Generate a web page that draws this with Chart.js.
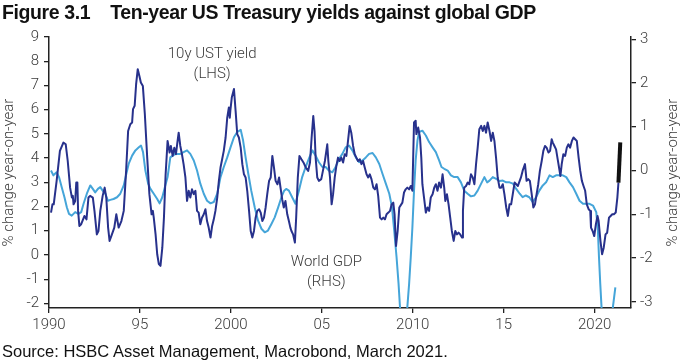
<!DOCTYPE html>
<html>
<head>
<meta charset="utf-8">
<script src="https://cdn.jsdelivr.net/npm/chart.js@4"></script>
<style>
  html, body { margin: 0; padding: 0; background: #fff; }
  #wrap { position: relative; width: 683px; height: 361px; overflow: hidden; }
  #title { position: absolute; left: 2px; top: 3px; font: bold 19.5px "Liberation Sans", Arial, sans-serif;
           line-height: 1; letter-spacing: -0.4px; color: #111; white-space: pre; }
  #source { position: absolute; left: 2px; top: 342.5px; font: 16.5px "Liberation Sans", Arial, sans-serif;
            line-height: 1; color: #111; white-space: pre; }
  canvas { position: absolute; left: 0; top: 0; }
</style>
</head>
<body>
<div id="wrap">
  <canvas id="myChart" width="683" height="361"></canvas>
  <div id="title">Figure 3.1    Ten-year US Treasury yields against global GDP</div>
  <div id="source">Source: HSBC Asset Management, Macrobond, March 2021.</div>
</div>
<script>
// 10y UST yield, % change y/y (LHS)
const ustYears = [1990.11,1990.19,1990.26,1990.42,1990.6,1990.79,1990.92,1991.03,1991.16,1991.26,1991.31,1991.35,1991.44,1991.5,1991.56,1991.6,1991.67,1991.77,1991.95,1992.06,
  1992.17,1992.26,1992.41,1992.5,1992.63,1992.72,1992.82,1992.95,1993.06,1993.15,1993.25,1993.33,1993.46,1993.59,1993.7,1993.83,1993.98,1994.11,1994.24,1994.35,
  1994.47,1994.57,1994.62,1994.71,1994.79,1994.88,1994.97,1995.05,1995.16,1995.27,1995.4,1995.52,1995.64,1995.71,1995.76,1995.86,1995.95,1996.04,1996.13,1996.23,
  1996.32,1996.41,1996.52,1996.63,1996.7,1996.8,1996.89,1996.98,1997.07,1997.13,1997.22,1997.31,1997.4,1997.5,1997.59,1997.68,1997.77,1997.86,1997.96,1998.05,
  1998.14,1998.23,1998.32,1998.41,1998.51,1998.6,1998.69,1998.78,1998.88,1998.97,1999.06,1999.15,1999.25,1999.34,1999.43,1999.52,1999.61,1999.71,1999.8,1999.89,
  1999.94,1999.97,2000.05,2000.17,2000.26,2000.35,2000.44,2000.54,2000.63,2000.72,2000.81,2000.9,2001.0,2001.09,2001.18,2001.27,2001.36,2001.45,2001.55,2001.64,
  2001.73,2001.82,2001.91,2002.0,2002.1,2002.19,2002.28,2002.37,2002.46,2002.56,2002.65,2002.82,2002.91,2003.0,2003.1,2003.19,2003.27,2003.33,2003.42,2003.52,
  2003.59,2003.68,2003.77,2003.88,2003.99,2004.12,2004.25,2004.35,2004.44,2004.53,2004.6,2004.66,2004.75,2004.84,2004.97,2005.06,2005.17,2005.3,2005.36,2005.45,
  2005.54,2005.62,2005.71,2005.8,2005.89,2005.98,2006.07,2006.17,2006.26,2006.35,2006.44,2006.53,2006.62,2006.72,2006.81,2006.9,2006.99,2007.09,2007.18,2007.27,
  2007.36,2007.46,2007.55,2007.64,2007.73,2007.83,2007.92,2008.01,2008.1,2008.2,2008.29,2008.38,2008.47,2008.56,2008.66,2008.75,2008.84,2008.93,2009.0,2009.08,
  2009.17,2009.26,2009.43,2009.52,2009.61,2009.7,2009.8,2009.89,2009.98,2010.07,2010.16,2010.2,2010.3,2010.4,2010.47,2010.53,2010.62,2010.72,2010.81,2010.9,
  2010.99,2011.09,2011.18,2011.27,2011.36,2011.45,2011.55,2011.64,2011.73,2011.79,2011.88,2011.97,2012.06,2012.15,2012.25,2012.34,2012.43,2012.52,2012.61,2012.71,
  2012.76,2012.83,2012.93,2013.02,2013.11,2013.2,2013.3,2013.39,2013.48,2013.57,2013.66,2013.76,2013.85,2013.94,2014.03,2014.12,2014.22,2014.31,2014.4,2014.49,
  2014.58,2014.67,2014.77,2014.86,2014.95,2015.04,2015.14,2015.23,2015.32,2015.41,2015.5,2015.6,2015.69,2015.78,2015.95,2016.04,2016.17,2016.26,2016.35,2016.44,
  2016.54,2016.63,2016.72,2016.81,2016.9,2016.99,2017.09,2017.18,2017.27,2017.36,2017.46,2017.55,2017.64,2017.7,2017.79,2017.88,2017.97,2018.06,2018.12,2018.19,
  2018.28,2018.38,2018.47,2018.56,2018.65,2018.75,2018.84,2018.93,2019.02,2019.12,2019.21,2019.3,2019.39,2019.48,2019.57,2019.67,2019.76,2019.8,2019.89,2019.98,
  2020.07,2020.16,2020.22,2020.32,2020.41,2020.5,2020.6,2020.69,2020.79,2020.88,2020.97,2021.06,2021.16,2021.25,2021.31];
const ustYield = [1.75,2.09,2.09,3.06,4.3,4.64,4.57,3.88,2.78,2.37,2.44,2.09,2.23,2.99,2.99,1.82,1.2,1.27,1.61,1.47,
  2.37,2.44,2.37,1.82,0.85,0.99,1.82,2.44,2.78,2.37,1.13,0.58,0.85,1.13,1.68,1.13,1.4,1.82,3.47,5.12,
  5.4,5.47,6.02,6.16,7.05,7.67,7.39,7.12,6.98,5.81,4.02,2.51,1.68,1.82,1.54,0.85,0.03,-0.38,-0.45,0.3,
  1.54,3.3,4.71,4.23,4.5,4.09,4.43,4.16,4.71,5.05,4.5,4.16,3.75,3.2,2.23,2.65,2.37,2.71,2.51,2.65,
  1.82,1.75,1.27,1.54,1.68,1.89,1.4,1.13,0.72,1.2,1.47,1.82,2.37,3.06,3.61,3.95,4.3,4.85,5.67,6.09,
  5.67,5.95,6.5,6.85,5.95,4.99,4.85,4.43,3.75,3.33,3.2,2.65,1.82,0.99,0.72,0.99,1.54,1.82,1.89,1.75,
  1.4,1.54,1.96,2.51,3.06,3.2,4.09,3.61,3.06,2.92,3.2,2.3,1.96,2.23,1.68,1.4,1.13,0.99,0.85,0.51,
  1.54,3.2,4.09,3.95,3.82,3.61,3.47,3.82,4.85,5.74,5.12,4.02,3.2,3.06,3.13,3.47,3.88,4.57,3.88,3.2,
  2.09,2.51,3.2,3.68,4.02,3.88,4.02,3.82,4.16,4.09,4.71,5.33,5.05,4.5,4.16,4.02,3.88,3.95,3.75,3.88,
  3.61,3.33,3.2,3.33,3.13,2.78,2.71,2.92,2.44,1.54,1.47,1.54,1.47,1.68,1.75,1.82,2.09,2.16,1.68,0.37,
  0.99,1.96,2.16,2.58,2.71,2.78,2.71,2.85,2.65,5.47,5.54,4.99,5.26,4.85,4.02,2.92,2.37,1.75,1.96,1.82,
  2.37,2.51,2.78,2.92,2.65,2.99,2.78,3.33,2.78,2.23,2.51,2.09,1.54,0.99,0.58,0.99,0.85,0.92,0.85,0.72,
  1.82,2.78,2.85,2.99,2.92,3.33,3.2,2.92,3.75,4.43,5.19,5.33,5.12,5.33,5.05,5.47,5.12,4.71,5.05,4.71,
  4.02,3.2,2.78,2.78,2.92,2.51,1.96,1.61,2.09,2.09,2.51,2.99,2.92,2.85,3.2,3.47,3.75,3.06,3.13,3.06,
  2.51,1.96,2.09,2.51,2.92,3.47,3.88,4.3,4.5,4.43,4.23,4.3,4.78,4.64,4.5,4.36,3.95,3.54,3.26,3.75,
  4.16,4.09,4.43,4.57,4.43,4.71,4.85,4.78,4.71,4.02,3.47,3.06,2.85,2.65,2.09,1.89,1.82,1.13,0.99,0.78,
  1.27,1.61,1.4,0.58,0.03,0.3,0.85,0.92,1.54,1.61,1.68,1.68,1.75,2.37,2.99];

// latest reading (black stroke)
const latestYears = [2021.31, 2021.41];
const latestYield = [2.99, 4.65];

// World GDP, % change y/y (RHS)
const gdpYears = [1990.11,1990.24,1990.42,1990.55,1990.7,1990.85,1990.98,1991.1,1991.25,1991.44,1991.62,1991.77,1991.9,1992.08,1992.27,1992.41,1992.54,1992.69,1992.82,1992.95,
  1993.1,1993.24,1993.37,1993.55,1993.74,1993.92,1994.11,1994.25,1994.38,1994.57,1994.75,1994.94,1995.06,1995.17,1995.3,1995.45,1995.58,1995.76,1995.95,1996.08,
  1996.23,1996.37,1996.52,1996.67,1996.94,1997.22,1997.4,1997.59,1997.77,1997.96,1998.14,1998.32,1998.51,1998.69,1998.88,1999.06,1999.25,1999.43,1999.61,1999.8,
  1999.98,2000.17,2000.35,2000.54,2000.67,2000.81,2000.96,2001.12,2001.31,2001.49,2001.68,2001.86,2002.04,2002.23,2002.41,2002.6,2002.78,2002.93,2003.04,2003.19,
  2003.37,2003.55,2003.74,2003.92,2004.11,2004.29,2004.48,2004.66,2004.84,2005.03,2005.21,2005.39,2005.58,2005.76,2005.95,2006.13,2006.31,2006.5,2006.68,2006.87,
  2007.05,2007.24,2007.42,2007.6,2007.79,2007.97,2008.16,2008.34,2008.52,2008.71,2008.86,2008.98,2009.11,2009.22,2009.31,2009.5,2009.7,2009.8,2009.89,2009.98,
  2010.07,2010.16,2010.26,2010.35,2010.53,2010.72,2010.9,2011.09,2011.27,2011.45,2011.58,2011.73,2011.92,2012.1,2012.28,2012.47,2012.65,2012.83,2013.02,2013.2,
  2013.39,2013.57,2013.76,2013.94,2014.09,2014.22,2014.4,2014.59,2014.77,2014.95,2015.14,2015.32,2015.51,2015.69,2015.88,2016.04,2016.22,2016.41,2016.59,2016.78,
  2016.96,2017.15,2017.33,2017.52,2017.7,2017.88,2018.07,2018.25,2018.44,2018.62,2018.81,2018.99,2019.17,2019.36,2019.54,2019.72,2019.91,2020.09,2020.18,2020.24,
  2020.31,2020.39,2020.56,2020.98,2021.14];
const gdpGrowth = [0.0,-0.11,-0.04,-0.15,-0.38,-0.61,-0.84,-0.99,-1.03,-0.95,-0.99,-0.95,-0.76,-0.53,-0.34,-0.42,-0.5,-0.42,-0.38,-0.46,
  -0.53,-0.69,-0.67,-0.65,-0.61,-0.53,-0.34,-0.08,0.15,0.34,0.46,0.53,0.57,0.42,0.0,-0.3,-0.42,-0.53,-0.65,-0.75,
  -0.61,-0.38,-0.15,0.3,0.38,0.38,0.42,0.46,0.38,0.23,0.0,-0.3,-0.53,-0.69,-0.75,-0.72,-0.53,-0.15,0.08,0.3,
  0.53,0.76,0.88,0.93,0.69,0.3,-0.08,-0.46,-0.84,-1.14,-1.33,-1.41,-1.37,-1.22,-1.07,-0.84,-0.61,-0.46,-0.42,-0.46,
  -0.61,-0.76,-0.46,-0.15,0.08,0.27,0.46,0.34,0.19,0.08,0.08,0.0,-0.04,0.08,0.27,0.38,0.53,0.57,0.46,0.3,
  0.19,0.23,0.3,0.38,0.4,0.3,0.15,-0.08,-0.3,-0.53,-0.84,-1.37,-1.98,-2.59,-3.2,-4.3,-3.13,-2.59,-1.98,-1.3,
  -0.46,0.23,0.69,0.88,0.91,0.8,0.65,0.53,0.42,0.23,0.08,0.04,0.0,-0.11,-0.15,-0.15,-0.27,-0.46,-0.53,-0.59,
  -0.57,-0.46,-0.3,-0.15,-0.27,-0.23,-0.15,-0.19,-0.24,-0.23,-0.27,-0.27,-0.3,-0.42,-0.53,-0.61,-0.57,-0.61,-0.72,-0.61,
  -0.46,-0.34,-0.27,-0.11,-0.15,-0.11,-0.11,-0.11,-0.15,-0.27,-0.38,-0.53,-0.69,-0.76,-0.76,-0.76,-0.8,-0.95,-1.37,-1.98,
  -2.59,-3.2,-4.56,-3.2,-2.67];

const xTickYears = [1990, 1995, 2000, 2005, 2010, 2015, 2020];
const xTickLabels = ['1990', '95', '2000', '05', '2010', '15', '2020'];
const leftTicks = [-2, -1, 0, 1, 2, 3, 4, 5, 6, 7, 8, 9];
const rightTicks = [-3, -2, -1, 0, 1, 2, 3];
const axisTitle = '% change year-on-year';

// series labels placed in data space: [year, value on LHS, text]
const seriesNotes = [
  [1998.97, 8.3, '10y UST yield'],
  [1998.97, 7.45, '(LHS)'],
  [2005.25, -0.32, 'World GDP'],
  [2005.25, -1.14, '(RHS)'],
];

const navy = '#27318c';
const sky = '#45a5d9';
const ink = '#222';
const labelColor = '#3a3a3a';
const lightFont = { family: 'Roboto, "Liberation Sans", Arial, sans-serif', size: 15, weight: '300' };

function toPoints(xs, ys) {
  return xs.map((x, i) => ({ x: x, y: ys[i] }));
}

// right axis title (reads bottom-to-top like the left one) and series notes
const extraText = {
  id: 'extraText',
  afterDraw(chart) {
    const ctx = chart.ctx;
    const area = chart.chartArea;
    ctx.save();
    ctx.fillStyle = labelColor;
    ctx.font = '300 15px Roboto, "Liberation Sans", Arial, sans-serif';
    ctx.textAlign = 'center';
    ctx.textBaseline = 'middle';
    seriesNotes.forEach(n => {
      ctx.fillText(n[2], chart.scales.x.getPixelForValue(n[0]), chart.scales.yL.getPixelForValue(n[1]));
    });
    ctx.translate(chart.width - 9.5, (area.top + area.bottom) / 2);
    ctx.rotate(-Math.PI / 2);
    ctx.fillText(axisTitle, 0, 0);
    ctx.restore();
  }
};

const data = {
  datasets: [
    {
      label: 'Latest',
      data: toPoints(latestYears, latestYield),
      yAxisID: 'yL',
      borderColor: '#111',
      borderWidth: 4,
      order: 0,
    },
    {
      label: '10y UST yield (LHS)',
      data: toPoints(ustYears, ustYield),
      yAxisID: 'yL',
      borderColor: navy,
      borderWidth: 2,
      order: 1,
    },
    {
      label: 'World GDP (RHS)',
      data: toPoints(gdpYears, gdpGrowth),
      yAxisID: 'yR',
      borderColor: sky,
      borderWidth: 2,
      order: 2,
    },
  ]
};

const config = {
  type: 'line',
  data: data,
  options: {
    responsive: false,
    devicePixelRatio: 1,
    animation: false,
    clip: 0,
    layout: { padding: { top: 37, left: 0, right: 0, bottom: 0 } },
    elements: {
      point: { radius: 0 },
      line: { tension: 0, borderJoinStyle: 'round', borderCapStyle: 'butt' }
    },
    plugins: {
      legend: { display: false },
      title: { display: false },
      tooltip: { enabled: false }
    },
    scales: {
      x: {
        type: 'linear',
        position: 'bottom',
        min: 1990,
        max: 2022,
        afterBuildTicks: s => { s.ticks = xTickYears.map(v => ({ value: v })); },
        afterFit: s => { s.height = 53; },
        ticks: {
          autoSkip: false, maxRotation: 0, padding: 3,
          font: lightFont, color: labelColor,
          callback: (v, i) => xTickLabels[i]
        },
        grid: { drawOnChartArea: false, drawTicks: true, tickLength: 5, color: ink, lineWidth: 1.3 },
        border: { display: true, color: ink, width: 1.5 }
      },
      yL: {
        type: 'linear',
        position: 'left',
        min: -2.19,
        max: 9,
        afterBuildTicks: s => { s.ticks = leftTicks.map(v => ({ value: v })); },
        afterFit: s => { s.width = 49; },
        ticks: { padding: 5, font: lightFont, color: labelColor },
        grid: { drawOnChartArea: false, drawTicks: true, tickLength: 5, color: ink, lineWidth: 1.3 },
        border: { display: true, color: ink, width: 1.5 },
        title: { display: true, text: axisTitle, font: lightFont, color: labelColor, padding: { top: 0.5, bottom: 0 } }
      },
      yR: {
        type: 'linear',
        position: 'right',
        min: -3.14,
        max: 3.05,
        afterBuildTicks: s => { s.ticks = rightTicks.map(v => ({ value: v })); },
        afterFit: s => { s.width = 52; },
        ticks: { padding: 4, font: lightFont, color: labelColor },
        grid: { drawOnChartArea: false, drawTicks: true, tickLength: 5, color: ink, lineWidth: 1.3 },
        border: { display: true, color: ink, width: 1.5 }
      }
    }
  },
  plugins: [extraText]
};

const myChart = new Chart(document.getElementById('myChart'), config);
</script>
</body>
</html>
